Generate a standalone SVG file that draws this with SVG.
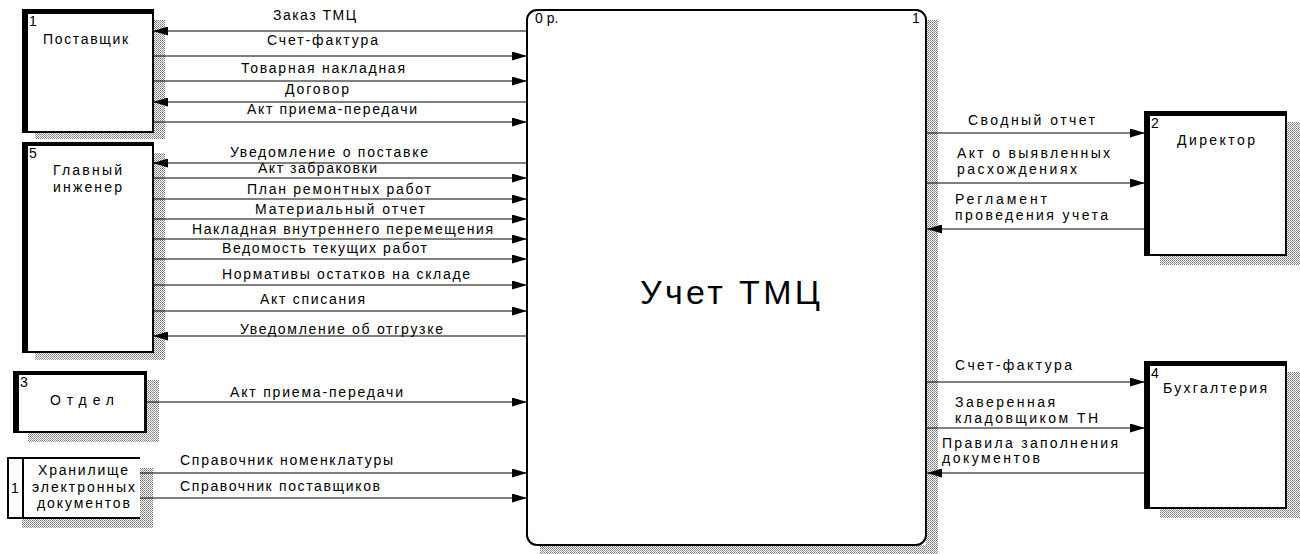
<svg xmlns="http://www.w3.org/2000/svg" width="1300" height="554" viewBox="0 0 1300 554">
<defs>
<pattern id="hatch" width="2" height="2" patternUnits="userSpaceOnUse">
<rect width="2" height="2" fill="#ffffff"/>
<rect x="0" y="0" width="1" height="1" fill="#777"/>
<rect x="1" y="1" width="1" height="1" fill="#999"/>
</pattern>
<marker id="ah" markerWidth="15" markerHeight="9" refX="15" refY="4.5" orient="auto" markerUnits="userSpaceOnUse">
<path d="M0,0 L15,4.5 L0,9 z" fill="#000"/>
</marker>
<style>
text{font-family:"Liberation Sans",Arial,sans-serif;font-size:14px;fill:#000}
.big{font-size:34px}
.box{fill:#fff;stroke:#000;stroke-width:2}
.thick{fill:#000}
.sh{fill:url(#hatch)}
.c{stroke:#000;stroke-width:1;fill:none;marker-end:url(#ah)}
</style>
</defs>
<rect width="1300" height="554" fill="#fff"/>

<g id="main">
<rect class="sh" x="926" y="20" width="12" height="534"/>
<rect class="sh" x="540" y="545" width="398" height="9"/>
<rect class="box" x="527" y="10" width="399" height="535" rx="10" ry="10" stroke-width="2.5"/>
<text x="535" y="23">0 р.</text>
<text x="912" y="23">1</text>
<text class="big" x="730" y="304" text-anchor="middle" textLength="180" lengthAdjust="spacing">Учет ТМЦ</text>
</g>

<g id="n-postavshik">
<rect class="sh" x="153" y="20" width="12" height="119"/>
<rect class="sh" x="35" y="132" width="130" height="7"/>
<rect class="box" x="23" y="10" width="130" height="122"/>
<rect class="thick" x="22" y="9" width="6" height="124"/>
<rect class="thick" x="22" y="9" width="132" height="5"/>
<text x="29" y="26">1</text>
<text x="43" y="44" textLength="85" lengthAdjust="spacing">Поставщик</text>
</g>

<g id="n-engineer">
<rect class="sh" x="153" y="153" width="12" height="207"/>
<rect class="sh" x="35" y="352" width="130" height="8"/>
<rect class="box" x="23" y="143" width="130" height="209"/>
<rect class="thick" x="22" y="142" width="6" height="211"/>
<rect class="thick" x="22" y="142" width="132" height="4"/>
<text x="29" y="158">5</text>
<text x="53" y="175" textLength="69" lengthAdjust="spacing">Главный</text>
<text x="53" y="192" textLength="69" lengthAdjust="spacing">инженер</text>
</g>

<g id="n-otdel">
<rect class="sh" x="146" y="380" width="13" height="62"/>
<rect class="sh" x="28" y="432" width="131" height="10"/>
<rect class="box" x="14" y="372" width="132" height="60"/>
<rect class="thick" x="13" y="371" width="6" height="62"/>
<rect class="thick" x="13" y="371" width="134" height="4"/>
<rect class="thick" x="144" y="371" width="3" height="62"/>
<text x="20" y="387">3</text>
<text x="50" y="405" textLength="64" lengthAdjust="spacing">Отдел</text>
</g>

<g id="n-store">
<rect class="sh" x="140" y="468" width="13" height="60"/>
<rect class="sh" x="22" y="518" width="131" height="10"/>
<rect x="8" y="458" width="132" height="60" fill="#fff"/>
<rect x="8" y="458" width="15" height="60" fill="#fff" stroke="#000" stroke-width="2"/>
<line x1="8" y1="458" x2="140" y2="458" stroke="#000" stroke-width="2"/>
<line x1="8" y1="518" x2="140" y2="518" stroke="#000" stroke-width="2"/>
<text x="11" y="493">1</text>
<text x="38" y="475" textLength="90" lengthAdjust="spacing">Хранилище</text>
<text x="32" y="492" textLength="103" lengthAdjust="spacing">электронных</text>
<text x="37" y="508" textLength="93" lengthAdjust="spacing">документов</text>
</g>

<g id="n-director">
<rect class="sh" x="1286" y="122" width="14" height="143"/>
<rect class="sh" x="1160" y="255" width="140" height="10"/>
<rect class="box" x="1145" y="112" width="141" height="143"/>
<rect class="thick" x="1144" y="111" width="6" height="145"/>
<rect class="thick" x="1144" y="111" width="143" height="5"/>
<text x="1151" y="128">2</text>
<text x="1177" y="145" textLength="78" lengthAdjust="spacing">Директор</text>
</g>

<g id="n-buh">
<rect class="sh" x="1286" y="372" width="14" height="146"/>
<rect class="sh" x="1160" y="508" width="140" height="10"/>
<rect class="box" x="1145" y="362" width="141" height="146"/>
<rect class="thick" x="1144" y="361" width="6" height="148"/>
<rect class="thick" x="1144" y="361" width="143" height="5"/>
<text x="1151" y="378">4</text>
<text x="1163" y="393" textLength="104" lengthAdjust="spacing">Бухгалтерия</text>
</g>

<g id="connectors">
<line class="c" x1="527" y1="31" x2="153" y2="31"/>
<line class="c" x1="153" y1="56" x2="527" y2="56"/>
<line class="c" x1="153" y1="81" x2="527" y2="81"/>
<line class="c" x1="527" y1="102" x2="153" y2="102"/>
<line class="c" x1="153" y1="122" x2="527" y2="122"/>
<line class="c" x1="527" y1="163" x2="153" y2="163"/>
<line class="c" x1="153" y1="178" x2="527" y2="178"/>
<line class="c" x1="153" y1="199" x2="527" y2="199"/>
<line class="c" x1="153" y1="219" x2="527" y2="219"/>
<line class="c" x1="153" y1="239" x2="527" y2="239"/>
<line class="c" x1="153" y1="259" x2="527" y2="259"/>
<line class="c" x1="153" y1="285" x2="527" y2="285"/>
<line class="c" x1="153" y1="311" x2="527" y2="311"/>
<line class="c" x1="527" y1="336" x2="153" y2="336"/>
<line class="c" x1="146" y1="402" x2="527" y2="402"/>
<line class="c" x1="140" y1="473" x2="527" y2="473"/>
<line class="c" x1="140" y1="498" x2="527" y2="498" stroke="#555" stroke-width="1.5"/>
<line class="c" x1="927" y1="133" x2="1145" y2="133"/>
<line class="c" x1="927" y1="183" x2="1145" y2="183"/>
<line class="c" x1="1145" y1="229" x2="927" y2="229"/>
<line class="c" x1="927" y1="382" x2="1145" y2="382"/>
<line class="c" x1="927" y1="428" x2="1145" y2="428"/>
<line class="c" x1="1145" y1="473" x2="927" y2="473"/>

<text x="273" y="20" textLength="83" lengthAdjust="spacing">Заказ ТМЦ</text>
<text x="267" y="45" textLength="111" lengthAdjust="spacing">Счет-фактура</text>
<text x="241" y="73" textLength="164" lengthAdjust="spacing">Товарная накладная</text>
<text x="285" y="94" textLength="64" lengthAdjust="spacing">Договор</text>
<text x="247" y="114" textLength="170" lengthAdjust="spacing">Акт приема-передачи</text>
<text x="230" y="157" textLength="198" lengthAdjust="spacing">Уведомление о поставке</text>
<text x="258" y="173" textLength="119" lengthAdjust="spacing">Акт забраковки</text>
<text x="247" y="194" textLength="184" lengthAdjust="spacing">План ремонтных работ</text>
<text x="255" y="214" textLength="170" lengthAdjust="spacing">Материальный отчет</text>
<text x="192" y="234" textLength="301" lengthAdjust="spacing">Накладная внутреннего перемещения</text>
<text x="222" y="253" textLength="205" lengthAdjust="spacing">Ведомость текущих работ</text>
<text x="222" y="279" textLength="248" lengthAdjust="spacing">Нормативы остатков на складе</text>
<text x="260" y="304" textLength="105" lengthAdjust="spacing">Акт списания</text>
<text x="240" y="334" textLength="203" lengthAdjust="spacing">Уведомление об отгрузке</text>
<text x="230" y="397" textLength="173" lengthAdjust="spacing">Акт приема-передачи</text>
<text x="180" y="465" textLength="213" lengthAdjust="spacing">Справочник номенклатуры</text>
<text x="180" y="491" textLength="200" lengthAdjust="spacing">Справочник поставщиков</text>
<text x="968" y="125" textLength="127" lengthAdjust="spacing">Сводный отчет</text>
<text x="957" y="158" textLength="153" lengthAdjust="spacing">Акт о выявленных</text>
<text x="957" y="174" textLength="120" lengthAdjust="spacing">расхождениях</text>
<text x="955" y="204" textLength="92" lengthAdjust="spacing">Регламент</text>
<text x="955" y="220" textLength="153" lengthAdjust="spacing">проведения учета</text>
<text x="955" y="370" textLength="117" lengthAdjust="spacing">Счет-фактура</text>
<text x="955" y="407" textLength="100" lengthAdjust="spacing">Заверенная</text>
<text x="955" y="423" textLength="143" lengthAdjust="spacing">кладовщиком ТН</text>
<text x="942" y="448" textLength="176" lengthAdjust="spacing">Правила заполнения</text>
<text x="942" y="463" textLength="98" lengthAdjust="spacing">документов</text>
</g>
</svg>
